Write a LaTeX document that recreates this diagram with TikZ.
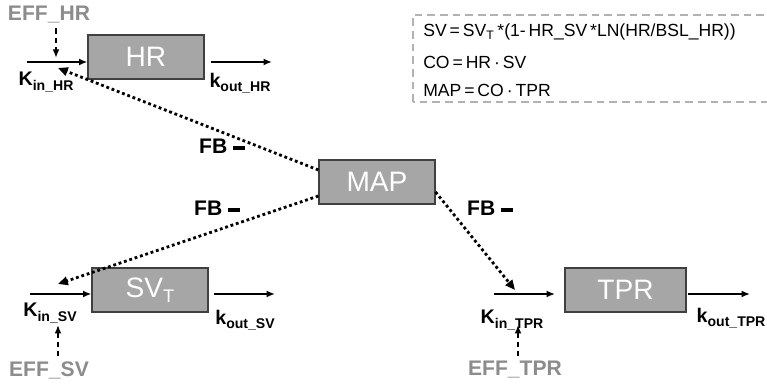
\documentclass[tikz,border=0pt]{standalone}
\usepackage{fontspec}
\setmainfont{Liberation Sans}
\usetikzlibrary{arrows.meta}
\newcommand{\rate}[2]{{\fontsize{14}{14}\selectfont\bfseries #1}\raisebox{-3pt}{\fontsize{10}{10}\selectfont\bfseries #2}}
\newcommand{\fbminus}{FB\hspace{4pt}\rule[2.5pt]{8.5pt}{2.8pt}}

\begin{document}
\begin{tikzpicture}[
  comp/.style={fill=black!35,draw=black!75,line width=0.8pt,minimum width=2.9cm,minimum height=1.1cm,text=white,font=\fontsize{20}{20}\selectfont},
  flow/.style={-{Latex[length=6pt,width=5pt]},line width=1.3pt},
  effect/.style={-{Latex[length=6pt,width=5pt]},line width=1.2pt,dash pattern=on 4pt off 2.5pt},
  feedback/.style={-{Triangle[length=7pt,width=6pt]},line width=2pt,dotted},
  efflabel/.style={text=black!45,font=\fontsize{15}{15}\selectfont\bfseries},
  fblabel/.style={font=\fontsize{15}{15}\selectfont\bfseries},
  eq/.style={anchor=west,inner sep=0pt,font=\fontsize{12.5}{12.5}\selectfont}
]
\useasboundingbox (0,0) rectangle (19.175,9.65);
% the compartments
\node[comp] (HR) at (3.65,8.225) {HR};
\node[comp] (MAP) at (9.425,5.1) {MAP};
\node[comp] (SV) at (3.75,2.4) {SV\raisebox{-4pt}{\fontsize{13}{13}\selectfont T}};
\node[comp,minimum width=3.025cm] (TPR) at (15.6375,2.4) {TPR};
% HR turnover
\coordinate (kinHR) at (0.675,8.1);
\coordinate (koutHR) at (5.275,8.1);
\coordinate (koutHRend) at (6.8,8.1);
\draw[flow] (kinHR) -- (kinHR -| HR.west);
\draw[flow] (koutHR) -- (koutHRend);
\node (KinHR) at (1.15,7.6) {\rate{K}{in\_HR}};
\node (KoutHR) at (6.0,7.575) {\rate{k}{out\_HR}};
\node[efflabel] (EFFHR) at (1.225,9.275) {EFF\_HR};
\coordinate (jHR) at (1.4,8.1);
\draw[effect,shorten >=3pt] (EFFHR.south -| jHR) -- (jHR);
% SV turnover
\coordinate (kinSV) at (0.75,2.3);
\coordinate (koutSV) at (5.35,2.3);
\coordinate (koutSVend) at (6.875,2.3);
\draw[flow] (kinSV) -- (kinSV -| SV.west);
\draw[flow] (koutSV) -- (koutSVend);
\node (KinSV) at (1.25,1.825) {\rate{K}{in\_SV}};
\node (KoutSV) at (6.125,1.65) {\rate{k}{out\_SV}};
\node[efflabel] (EFFSV) at (1.225,0.4) {EFF\_SV};
\coordinate (jSV) at (1.45,1.525);
\draw[effect] (EFFSV.north -| jSV) -- (jSV);
% TPR turnover
\coordinate (kinTPR) at (12.35,2.3);
\coordinate (kinTPRend) at (13.875,2.3);
\coordinate (koutTPR) at (17.2,2.3);
\coordinate (koutTPRend) at (18.75,2.3);
\draw[flow] (kinTPR) -- (kinTPRend);
\draw[flow] (koutTPR) -- (koutTPRend);
\node (KinTPR) at (12.8,1.65) {\rate{K}{in\_TPR}};
\node (KoutTPR) at (18.275,1.7) {\rate{k}{out\_TPR}};
\node[efflabel] (EFFTPR) at (12.875,0.4) {EFF\_TPR};
\coordinate (jTPR) at (12.95,1.525);
\draw[effect] (EFFTPR.north -| jTPR) -- (jTPR);
% the feedback of MAP
\coordinate (fbHR) at (1.45,7.95);
\coordinate (fbSV) at (1.45,2.55);
\coordinate (fbTPR) at (12.875,2.4);
\draw[feedback] ([yshift=0.3cm]MAP.west) -- (fbHR);
\draw[feedback] ([yshift=-0.35cm]MAP.west) -- (fbSV);
\draw[feedback] ([yshift=-0.25cm]MAP.east) -- (fbTPR);
\node[fblabel] (FBHR) at (5.55,6.0) {\fbminus};
\node[fblabel] (FBSV) at (5.425,4.45) {\fbminus};
\node[fblabel] (FBTPR) at (12.25,4.45) {\fbminus};
% the equations
\draw[black!30,line width=1.3pt,dash pattern=on 5.5pt off 3.5pt] (10.325,7.1) rectangle (19.4,9.275);
\node[eq] (eq1) at (10.575,8.85) {SV\,=\,SV\textsubscript{T}\,*(1-\,HR\_SV\,*LN(HR/BSL\_HR))};
\node[eq] (eq2) at (10.575,8.1) {CO\,=\,HR\,·\,SV};
\node[eq] (eq3) at (10.575,7.4) {MAP\,=\,CO\,·\,TPR};
\end{tikzpicture}
\end{document}
